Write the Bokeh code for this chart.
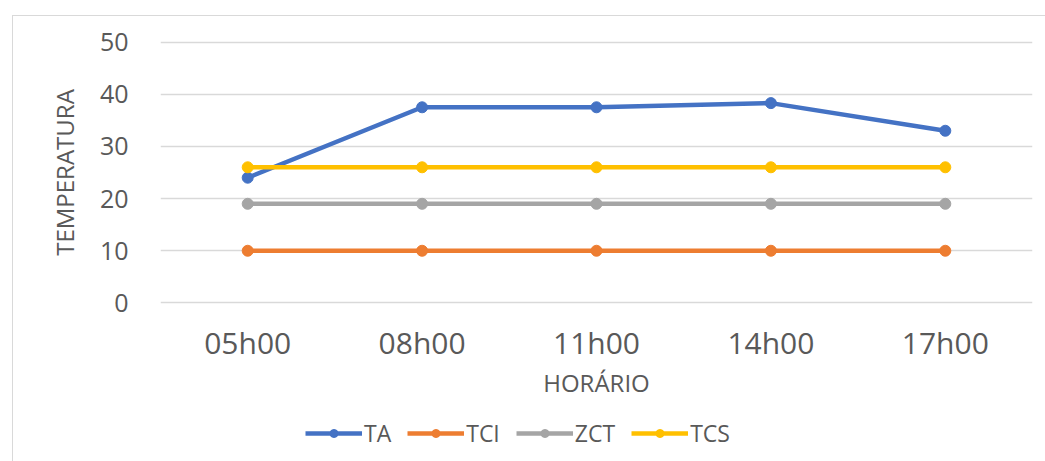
from bokeh.plotting import figure
from bokeh.layouts import column
from bokeh.models import Legend, LegendItem, FactorRange, Range1d
from bokeh.embed import file_html
from bokeh.resources import INLINE

horarios = ["05h00", "08h00", "11h00", "14h00", "17h00"]
ta = [24, 37.5, 37.5, 38.3, 33]
tci = [10, 10, 10, 10, 10]
zct = [19, 19, 19, 19, 19]
tcs = [26, 26, 26, 26, 26]
y_ticks = [0, 10, 20, 30, 40, 50]

series = [("TA", ta, "#4472C4"), ("TCI", tci, "#ED7D31"),
          ("ZCT", zct, "#A5A5A5"), ("TCS", tcs, "#FFC000")]

FONT = "Open Sans"
GRAY = "#595959"

p = figure(width=1032, height=400, x_range=FactorRange(*horarios), y_range=Range1d(-0.3, 50.3),
           output_backend="svg", toolbar_location=None,
           min_border_left=147, min_border_right=13, min_border_top=24, min_border_bottom=112)
p.outline_line_color = None
p.background_fill_color = "white"
p.border_fill_color = "white"

p.xgrid.grid_line_color = None
p.ygrid.grid_line_color = "#d9d9d9"
p.ygrid.grid_line_width = 1.5
p.yaxis.ticker = y_ticks

for ax in (p.xaxis[0], p.yaxis[0]):
    ax.axis_line_color = None
    ax.major_tick_line_color = None
    ax.minor_tick_line_color = None
    ax.major_label_text_font = FONT
    ax.major_label_text_color = GRAY
    ax.axis_label_text_font = FONT
    ax.axis_label_text_color = GRAY
    ax.axis_label_text_font_style = "normal"

p.yaxis.axis_label = "TEMPERATURA"
p.yaxis.major_label_text_font_size = "25px"
p.yaxis.axis_label_text_font_size = "24px"
p.yaxis.major_label_standoff = 26
p.yaxis.axis_label_standoff = 16

p.xaxis.axis_label = "HORÁRIO"
p.xaxis.major_label_text_font_size = "30px"
p.xaxis.axis_label_text_font_size = "24px"
p.xaxis.major_label_standoff = 11
p.xaxis.axis_label_standoff = 0

for name, vals, color in series:
    p.line(horarios, vals, line_color=color, line_width=4.5)
    p.scatter(horarios, vals, size=11, fill_color=color, line_color=color)

# legend strip (its own small figure, glyphs kept out of view)
p2 = figure(width=1032, height=45, x_range=FactorRange(*horarios), y_range=Range1d(1000, 1001),
            output_backend="svg", toolbar_location=None, x_axis_type=None, y_axis_type=None,
            min_border=0)
p2.outline_line_color = None
p2.xgrid.grid_line_color = None
p2.ygrid.grid_line_color = None
items = []
for name, vals, color in series:
    l = p2.line(horarios, vals, line_color=color, line_width=4.5)
    s = p2.scatter(horarios, vals, size=10, fill_color=color, line_color=color)
    items.append(LegendItem(label=name, renderers=[l, s]))
legend = Legend(items=items, orientation="horizontal", location=(145, 12),
                glyph_width=57, glyph_height=20, label_standoff=2, spacing=16,
                padding=0, margin=0, border_line_color=None, background_fill_alpha=0,
                label_text_font=FONT, label_text_font_size="23px", label_text_color=GRAY,
                label_height=24)
p2.add_layout(legend, "center")

layout = column(p, p2, spacing=0,
                styles={"margin-left": "12px", "margin-top": "15px",
                        "border-left": "1px solid #d9d9d9", "border-top": "1px solid #d9d9d9"})

open("out.html", "w").write(file_html(layout, INLINE))
